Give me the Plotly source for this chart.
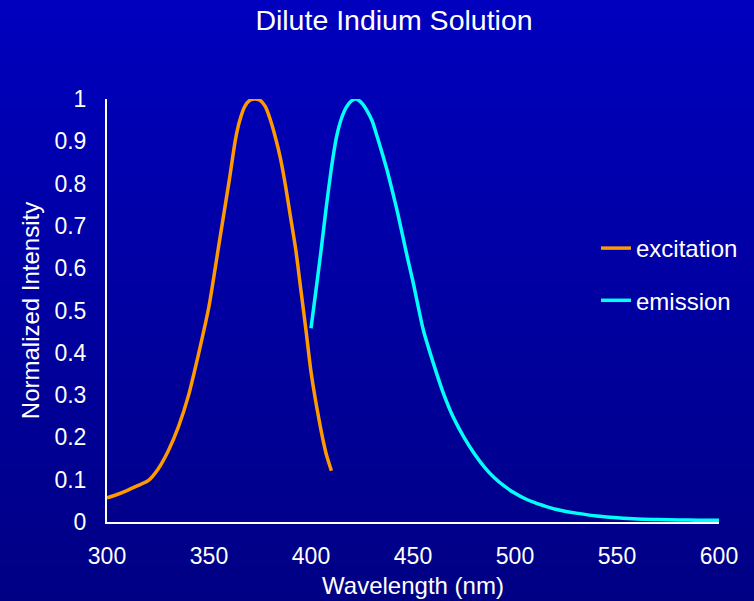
import plotly.graph_objects as go

# ---- data ----
exc_wavelength = [300, 305, 310, 315, 320, 325, 330, 335, 340, 345, 350, 355, 360,
                  363, 365, 367.5, 370, 372.5, 375, 377.5, 380, 382.5, 385, 387.5,
                  390, 392.5, 395, 397.5, 400, 402.5, 405, 407.5, 410]
exc_intensity = [0.057, 0.065, 0.075, 0.086, 0.097, 0.125, 0.168, 0.225, 0.30, 0.40,
                 0.51, 0.66, 0.81, 0.905, 0.948, 0.982, 0.997, 1.0, 0.997, 0.983, 0.952,
                 0.91, 0.86, 0.795, 0.72, 0.645, 0.55, 0.455, 0.355, 0.28, 0.215,
                 0.16, 0.121]

em_wavelength = [400, 402.5, 405, 407.5, 410, 412.5, 415, 417.5, 420, 422, 425, 427.5,
                 430, 432.5, 435, 437.5, 440, 442.5, 445, 447.5, 450, 455, 460, 465,
                 470, 475, 480, 485, 490, 495, 500, 505, 510, 515, 520, 525, 530, 540,
                 550, 560, 570, 580, 590, 600]
em_intensity = [0.458, 0.55, 0.645, 0.745, 0.837, 0.91, 0.955, 0.982, 0.996, 1.0,
                0.99, 0.972, 0.948, 0.91, 0.87, 0.828, 0.78, 0.73, 0.675, 0.62, 0.568,
                0.455, 0.375, 0.303, 0.245, 0.200, 0.162, 0.130, 0.104, 0.084, 0.068,
                0.055, 0.045, 0.037, 0.030, 0.025, 0.021, 0.014, 0.010, 0.007, 0.006,
                0.005, 0.004, 0.004]

x_ticks = [300, 350, 400, 450, 500, 550, 600]
y_ticks = [0, 0.1, 0.2, 0.3, 0.4, 0.5, 0.6, 0.7, 0.8, 0.9, 1]
y_tick_labels = ["0", "0.1", "0.2", "0.3", "0.4", "0.5", "0.6", "0.7", "0.8", "0.9", "1"]

title_text = "Dilute Indium Solution"
x_title = "Wavelength (nm)"
y_title = "Normalized Intensity"

# ---- figure ----
W, H = 754, 601
ml, mr, mt, mb = 107, 35, 99, 79
pw, ph = W - ml - mr, H - mt - mb

fig = go.Figure()
fig.add_trace(go.Scatter(x=exc_wavelength, y=exc_intensity, mode="lines", name="excitation",
                         line=dict(color="#FF9900", width=3.5, shape="spline", smoothing=0.6),
                         cliponaxis=False, legendgroup="a"))
fig.add_trace(go.Scatter(x=em_wavelength, y=em_intensity, mode="lines", name="emission",
                         line=dict(color="#00FFFF", width=3.5, shape="spline", smoothing=0.6),
                         cliponaxis=False, legendgroup="b"))

# gradient background via horizontal bands (paper coordinates)
top = (0, 0, 190)
bot = (0, 0, 132)
n = 100
shapes = []
for i in range(n):
    f = (i + 0.5) / n
    c = tuple(round(top[k] + (bot[k] - top[k]) * f) for k in range(3))
    y_top_px = H * i / n
    y_bot_px = H * (i + 1) / n + 1
    shapes.append(dict(type="rect", xref="paper", yref="paper", layer="below",
                       x0=-ml / pw - 0.02, x1=1 + mr / pw + 0.02,
                       y0=(H - mb - y_bot_px) / ph, y1=(H - mb - y_top_px) / ph,
                       line=dict(width=0), fillcolor="rgb(%d,%d,%d)" % c))

font_family = "Liberation Sans, Arial, sans-serif"
fig.update_layout(
    width=W, height=H,
    margin=dict(l=ml, r=mr, t=mt, b=mb, autoexpand=False),
    paper_bgcolor="rgb(0,0,160)",
    plot_bgcolor="rgba(0,0,0,0)",
    shapes=shapes,
    font=dict(family=font_family, color="white", size=23),
    title=dict(text=title_text, x=394 / W, xref="container", xanchor="center",
               y=1 - 20 / H, yref="container", yanchor="middle",
               font=dict(size=28.5, color="white")),
    showlegend=True,
    legend=dict(x=(596 - ml) / pw, y=(H - mb - 226) / ph, xanchor="left", yanchor="top",
                bgcolor="rgba(0,0,0,0)", font=dict(size=24, color="white"),
                tracegroupgap=18, traceorder="grouped"),
    xaxis=dict(range=[300, 600], tickvals=x_ticks, showgrid=False, zeroline=False,
               showline=True, linecolor="white", linewidth=2, ticks="",
               ticklabelstandoff=12, automargin=False,
               title=dict(text=x_title, standoff=10, font=dict(size=24))),
    yaxis=dict(range=[0, 1], tickvals=y_ticks, ticktext=y_tick_labels, showgrid=False,
               zeroline=False, showline=True, linecolor="white", linewidth=2, ticks="",
               ticklabelstandoff=14, automargin=False,
               title=dict(text=y_title, standoff=8, font=dict(size=24))),
)

fig.write_html("out.html", config={"displayModeBar": False},
               post_script="document.body.style.margin='0';document.body.style.padding='0';")
